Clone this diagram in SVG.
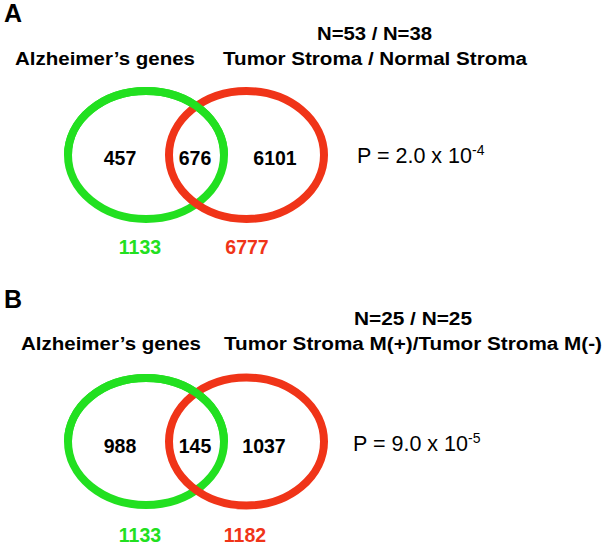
<svg xmlns="http://www.w3.org/2000/svg" width="604" height="548" viewBox="0 0 604 548">
<style>
text{font-family:"Liberation Sans",Arial,sans-serif;fill:#000}
.lbl{font-size:25px;font-weight:bold}
.hd{font-size:18.8px;font-weight:bold}
.num{font-size:19.5px;font-weight:bold}
.p{font-size:21.5px}
.sup{font-size:14px}
.g{fill:#22e020}
.r{fill:#f03418}
.gc{fill:none;stroke:#22e020;stroke-width:8}
.rc{fill:none;stroke:#f03418;stroke-width:8}
</style>
<defs>
<clipPath id="topA"><rect x="0" y="0" width="604" height="155"/></clipPath>
<clipPath id="topB"><rect x="0" y="290" width="604" height="151"/></clipPath>
</defs>
<rect width="604" height="548" fill="#fff"/>
<g id="panelA">
<text class="lbl" x="4" y="22">A</text>
<text class="hd" x="317" y="40" textLength="115" lengthAdjust="spacingAndGlyphs">N=53 / N=38</text>
<text class="hd" x="15" y="65" textLength="180" lengthAdjust="spacingAndGlyphs">Alzheimer’s genes</text>
<text class="hd" x="223" y="65" textLength="304" lengthAdjust="spacingAndGlyphs">Tumor Stroma / Normal Stroma</text>
<g id="A_green"><ellipse class="gc" cx="146" cy="155" rx="78" ry="64"/></g>
<g id="A_red"><ellipse class="rc" cx="246.5" cy="155" rx="77.5" ry="64"/></g>
<ellipse class="gc" cx="146" cy="155" rx="78" ry="64" clip-path="url(#topA)"/>
<text class="num" x="120" y="165" text-anchor="middle">457</text>
<text class="num" x="195" y="165" text-anchor="middle">676</text>
<text class="num" x="275" y="165" text-anchor="middle">6101</text>
<text class="p" x="357" y="163">P = 2.0 x 10<tspan class="sup" dy="-8">-4</tspan></text>
<text class="num g" x="140" y="254" text-anchor="middle">1133</text>
<text class="num r" x="247" y="254" text-anchor="middle">6777</text>
</g>
<g id="panelB">
<text class="lbl" x="4" y="308">B</text>
<text class="hd" x="354" y="325" textLength="118" lengthAdjust="spacingAndGlyphs">N=25 / N=25</text>
<text class="hd" x="21" y="350" textLength="180" lengthAdjust="spacingAndGlyphs">Alzheimer’s genes</text>
<text class="hd" x="224" y="350" textLength="378" lengthAdjust="spacingAndGlyphs">Tumor Stroma M(+)/Tumor Stroma M(-)</text>
<g id="B_green"><ellipse class="gc" cx="146" cy="441.5" rx="78" ry="63.5"/></g>
<g id="B_red"><ellipse class="rc" cx="246.5" cy="441.5" rx="77.5" ry="64"/></g>
<ellipse class="gc" cx="146" cy="441.5" rx="78" ry="63.5" clip-path="url(#topB)"/>
<text class="num" x="120" y="453" text-anchor="middle">988</text>
<text class="num" x="195" y="453" text-anchor="middle">145</text>
<text class="num" x="264" y="453" text-anchor="middle">1037</text>
<text class="p" x="353" y="451">P = 9.0 x 10<tspan class="sup" dy="-8">-5</tspan></text>
<text class="num g" x="140" y="542" text-anchor="middle">1133</text>
<text class="num r" x="245" y="542" text-anchor="middle">1182</text>
</g>
</svg>
